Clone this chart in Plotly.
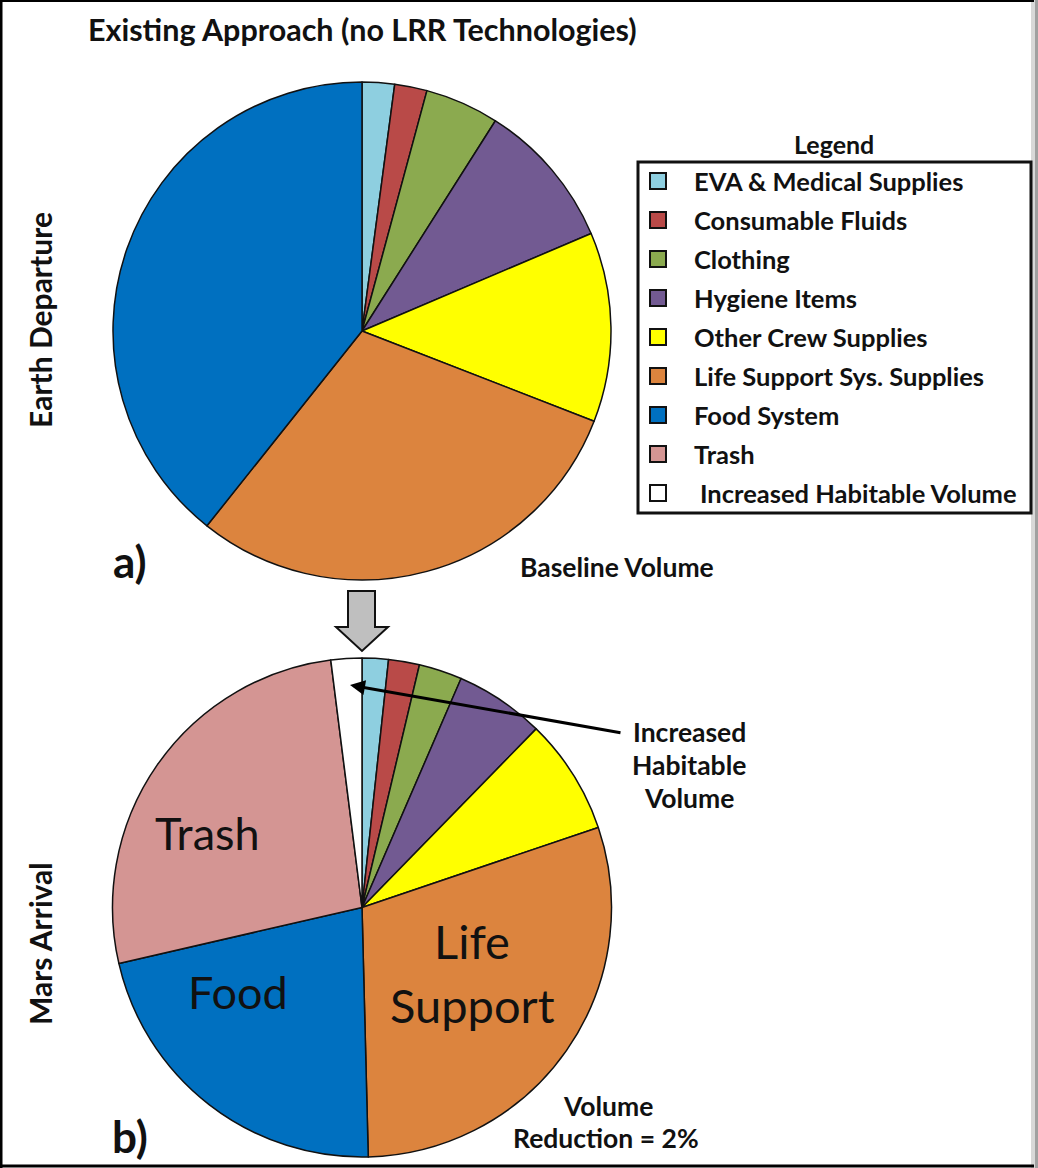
import plotly.graph_objects as go

W, H = 1038, 1168

# ---------------- data ----------------
categories = ["EVA & Medical Supplies", "Consumable Fluids", "Clothing", "Hygiene Items",
              "Other Crew Supplies", "Life Support Sys. Supplies", "Food System", "Trash",
              "Increased Habitable Volume"]
colors = ["#8ECFE0", "#B94A48", "#8BAA4F", "#725A92", "#FFFF00", "#DC843E", "#0070C0",
          "#D49593", "#FFFFFF"]

departure_labels = categories[:7]
departure_values = [2.1, 2.1, 4.8, 9.6, 12.3, 29.8, 39.3]

arrival_labels = categories
arrival_values = [1.7, 2.0, 2.8, 5.8, 7.5, 29.8, 21.8, 26.6, 2.0]

FONT_B = "Lato"

def dom_x(x0, x1):
    return [x0 / W, x1 / W]

def dom_y(y0, y1):
    return [1 - y1 / H, 1 - y0 / H]

fig = go.Figure()

# invisible cartesian frame for pixel-space annotations/shapes
fig.add_trace(go.Scatter(x=[], y=[], showlegend=False, hoverinfo="skip"))

fig.add_trace(go.Pie(
    labels=departure_labels, values=departure_values,
    marker=dict(colors=colors[:7], line=dict(color="#111111", width=1.5)),
    sort=False, direction="clockwise", rotation=0, textinfo="none",
    domain=dict(x=dom_x(113, 611), y=dom_y(82, 580)), showlegend=False,
))
fig.add_trace(go.Pie(
    labels=arrival_labels, values=arrival_values,
    marker=dict(colors=colors, line=dict(color="#111111", width=1.5)),
    sort=False, direction="clockwise", rotation=0, textinfo="none",
    domain=dict(x=dom_x(112, 612), y=dom_y(658, 1157)), showlegend=False,
))

ann = []
shapes = []

def text(x, y, s, size, bold=True, angle=0, xanchor="center", family=FONT_B):
    ann.append(dict(x=x, y=y, xref="x", yref="y", text=s, showarrow=False,
                    xanchor=xanchor, yanchor="middle", textangle=angle,
                    font=dict(family=family, size=size, color="#111111",
                              weight="bold" if bold else "normal")))

text(362, 29, "Existing Approach (no LRR Technologies)", 30.5)
text(40, 320, "Earth Departure", 30, angle=-90)
text(40, 944, "Mars Arrival", 30, angle=-90)
text(130, 561, "a)", 44)
text(130, 1136, "b)", 44)
text(617, 567, "Baseline Volume", 26.5)
text(608, 1106, "Volume", 26.5)
text(606, 1138, "Reduction = 2%", 26.5)
text(689, 732, "Increased", 26.5)
text(689, 765, "Habitable", 26.5)
text(689, 798, "Volume", 26.5)

# in-pie labels
text(207, 833, "Trash", 45, bold=False)
text(238, 992, "Food", 45, bold=False)
text(472, 941, "Life", 47, bold=False)
text(472, 1005, "Support", 47, bold=False)

# pointer arrow to the white slice
ann.append(dict(x=350, y=685, ax=622, ay=733, xref="x", yref="y", axref="x", ayref="y",
                text="", showarrow=True, arrowhead=2, arrowsize=1, arrowwidth=3,
                arrowcolor="#000000"))

# manual legend
text(834, 144, "Legend", 25)
shapes.append(dict(type="rect", x0=638, x1=1031, y0=162, y1=513, xref="x", yref="y",
                   line=dict(color="#111111", width=3)))
for i, (name, col) in enumerate(zip(categories, colors)):
    cy = 181 + 39 * i
    shapes.append(dict(type="rect", x0=650, x1=666, y0=cy - 8, y1=cy + 8, xref="x", yref="y",
                       fillcolor=col, line=dict(color="#111111", width=2)))
    text(692 if i < 8 else 698, cy, name, 25.5, xanchor="left")

# gray block arrow between the pies
shapes.append(dict(type="path", xref="x", yref="y",
                   path="M 348 591 L 375 591 L 375 627 L 388 627 L 362 651 L 336 627 L 348 627 Z",
                   fillcolor="#BFBFBF", line=dict(color="#111111", width=2)))

# frame
shapes.append(dict(type="line", x0=0, x1=1034, y0=1, y1=1, xref="x", yref="y",
                   line=dict(color="#000000", width=2)))
shapes.append(dict(type="line", x0=1, x1=1, y0=0, y1=1168, xref="x", yref="y",
                   line=dict(color="#000000", width=3)))
shapes.append(dict(type="line", x0=0, x1=1034, y0=1166, y1=1166, xref="x", yref="y",
                   line=dict(color="#000000", width=3)))
shapes.append(dict(type="rect", x0=1031, x1=1038, y0=0, y1=1168, xref="x", yref="y",
                   fillcolor="#D8D8D8", line=dict(width=0), layer="below"))
shapes.append(dict(type="rect", x0=1035, x1=1038, y0=0, y1=1168, xref="x", yref="y",
                   fillcolor="#A0A0A0", line=dict(width=0), layer="below"))

fig.update_layout(
    width=W, height=H, margin=dict(l=0, r=0, t=0, b=0),
    paper_bgcolor="white", plot_bgcolor="rgba(0,0,0,0)",
    xaxis=dict(range=[0, W], visible=False, domain=[0, 1], fixedrange=True),
    yaxis=dict(range=[H, 0], visible=False, domain=[0, 1], fixedrange=True),
    annotations=ann, shapes=shapes, showlegend=False,
)

fig.write_html("out.html", config={"displayModeBar": False},
               post_script="document.body.style.margin='0';document.body.style.padding='0';"
                           "document.body.style.overflow='hidden';")
